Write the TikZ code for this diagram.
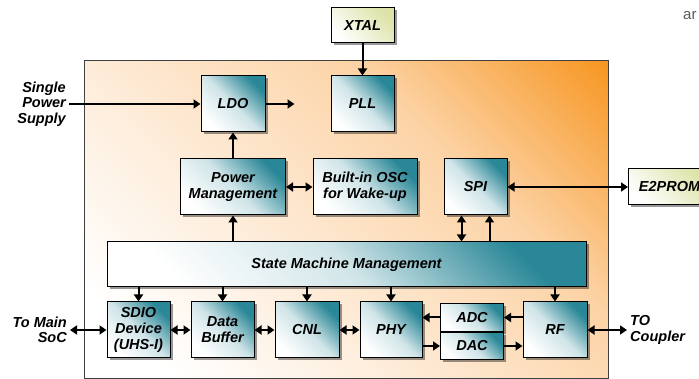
\documentclass[tikz,border=0pt]{standalone}
\usepackage{fontspec}
\setmainfont{Liberation Sans}
\usetikzlibrary{calc,shadows,arrows.meta}
\definecolor{tealbox}{HTML}{2A8797}
\definecolor{orangebg}{HTML}{F7941D}
\definecolor{peachbg}{HTML}{FCD3A6}
\definecolor{limebox}{HTML}{DDE3A8}
\pgfdeclareverticalshading{chipfade}{100bp}{color(0bp)=(white); color(22bp)=(white);
    color(40bp)=(peachbg!40!white); color(52bp)=(peachbg!70!white); color(64bp)=(peachbg);
    color(74bp)=(peachbg!55!orangebg); color(86bp)=(orangebg); color(100bp)=(orangebg)}

\begin{document}
\begin{tikzpicture}[x=1pt,y=-1pt,
        box/.style={draw,line width=1pt,minimum width=64pt,minimum height=56pt,inner sep=1pt,align=center,
            font={\bfseries\itshape\fontsize{14.5}{16}\selectfont},
            drop shadow={shadow xshift=2.5pt,shadow yshift=-2.5pt,opacity=.4,fill=black}},
        block/.style={box,bottom color=white,top color=tealbox,middle color=tealbox!22,shading angle=-45},
        ext/.style={box,minimum height=35pt,bottom color=white,top color=limebox,shading angle=-45},
        sidetext/.style={inner sep=3pt,font={\bfseries\itshape\fontsize{14.5}{15.5}\selectfont}},
        link/.style={line width=2pt,-{Triangle[length=7pt,width=9pt]}},
        dlink/.style={line width=2pt,{Triangle[length=7pt,width=9pt]}-{Triangle[length=7pt,width=9pt]}}]
            \useasboundingbox (0,0) rectangle (699,379);

            \node[draw=black!75,line width=.8pt,anchor=north west,minimum width=524pt,minimum height=318pt,
                shade,shading=chipfade,shading angle=-45] (chip) at (84,60) {};

            \node[ext,minimum width=63pt] (xtal) at (362.5,25.5) {XTAL};
            \node[block] (ldo) at (233,104) {LDO};
            \node[block,minimum width=63pt] (pll) at (362.5,104) {PLL};

            \node[block,minimum width=105pt] (pm) at (233,187) {Power\\Management};
            \node[block,minimum width=104pt] (osc) at (365,187) {Built-in OSC\\for Wake-up};
            \node[block,minimum width=63pt] (spi) at (475.5,187) {SPI};
            \node[ext,anchor=west,minimum width=82pt,minimum height=36pt] (e2prom) at (628,187) {E2PROM};

            \node[block,minimum width=479pt,minimum height=45pt] (sm) at (346.5,264.5) {State Machine Management};

            \node[block,minimum width=63pt] (sdio) at (138.5,330) {SDIO\\Device\\(UHS-I)};
            \node[block,anchor=west,minimum width=63pt] (buf) at ($(sdio.east)+(20,0)$) {Data\\Buffer};
            \node[block,anchor=west] (cnl) at ($(buf.east)+(20,0)$) {CNL};
            \node[block,anchor=west,minimum width=62pt] (phy) at ($(cnl.east)+(20,0)$) {PHY};
            \node[block,anchor=north west,minimum width=63pt,minimum height=28pt] (adc) at (440,303) {ADC};
            \node[block,anchor=north west,minimum width=63pt,minimum height=27pt] (dac) at (adc.south west) {DAC};
            \node[block] (rf) at (555,330) {RF};

            \node[sidetext,anchor=east,align=right] (supply) at (69,104) {Single\\Power\\Supply};
            \node[sidetext,anchor=east,align=right] (soc) at (70,330) {To Main\\SoC};
            \node[sidetext,anchor=west,align=left] (coupler) at (627,330) {TO\\Coupler};
            \node[anchor=base west,inner sep=0pt,text=black!65,font={\fontsize{15}{15}\selectfont}] (cut) at (683,20) {ar};

            \coordinate (ldoout) at ($(ldo.east)+(29,0)$);
            \coordinate (spia) at ($(spi.south)+(-14,0)$);
            \coordinate (spib) at ($(spi.south)+(14,0)$);

            \draw[link] (supply.east) -- (supply.east -| ldo.west);
            \draw[link] (ldo.east) -- (ldoout);
            \draw[link] (xtal) -- (pll);
            \draw[link] (pm) -- (ldo);
            \draw[dlink] (pm) -- (osc);
            \draw[dlink] (spi) -- (e2prom);
            \draw[link] (sm.north -| pm) -- (pm.south);
            \draw[dlink] (sm.north -| spia) -- (spia);
            \draw[link] (sm.north -| spib) -- (spib);
            \foreach \blk in {sdio,buf,cnl,phy,rf}
                \draw[link] (sm.south -| \blk) -- (\blk.north);
            \draw[dlink] (soc.east) -- (sdio.west);
            \draw[dlink] (sdio) -- (buf);
            \draw[dlink] (buf) -- (cnl);
            \draw[dlink] (cnl) -- (phy);
            \draw[link] (adc.west) -- (adc.west -| phy.east);
            \draw[link] (adc.east -| rf.west) -- (adc.east);
            \draw[link] (dac.west -| phy.east) -- (dac.west);
            \draw[link] (dac.east) -- (dac.east -| rf.west);
            \draw[dlink] (rf.east) -- (coupler.west);
        \end{tikzpicture}
\end{document}
